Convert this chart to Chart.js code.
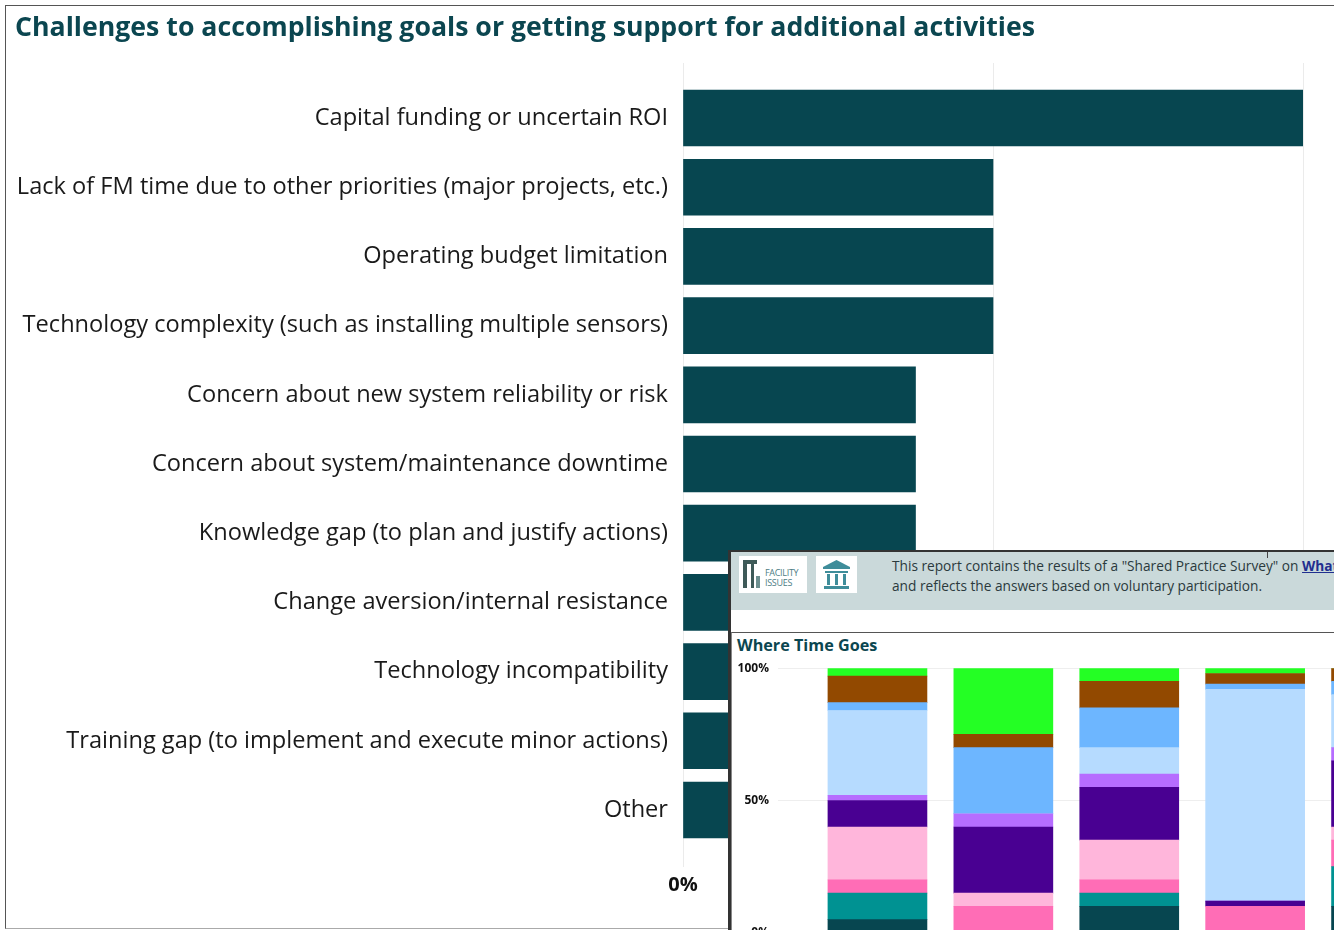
<!DOCTYPE html>
<html>
<head>
<meta charset="utf-8">
<title>Challenges to accomplishing goals</title>
<script src="https://cdn.jsdelivr.net/npm/chart.js@4/dist/chart.umd.min.js"></script>
<style>
html, body { margin: 0; padding: 0; width: 1334px; height: 930px; overflow: hidden; background: #fff; }
body { position: relative; font-family: "Open Sans", sans-serif; }
#frame { position: absolute; left: 5px; top: 5px; width: 1329px; height: 924px; border-left: 1px solid #555; border-top: 1px solid #555; border-bottom: 1px solid #aaa; box-sizing: border-box; }
#mainChart { position: absolute; left: 15px; top: 6px; }
#overlay { position: absolute; left: 728px; top: 550px; width: 606px; height: 380px; background: #fff; overflow: hidden; border-left: 3px solid #333; border-top: 2px solid #333; box-sizing: border-box; }
#header { position: absolute; left: 0; top: 0; width: 603px; height: 58px; background: #cad9da; }
#tick { position: absolute; left: 536px; top: 0; width: 1px; height: 6px; background: #444; }
.logo { position: absolute; top: 4px; height: 37px; background: #fff; }
#logo1 { left: 8px; width: 68px; }
#logo2 { left: 85px; width: 41px; }
#logoText { position: absolute; left: 26px; top: 12px; font-size: 9px; line-height: 10px; color: #4d7c84; letter-spacing: -0.3px; }
.intro { position: absolute; left: 161px; font-size: 13.7px; white-space: nowrap; color: #2b3a3d; }
.intro a { color: #1f2f8f; font-weight: bold; }
#panel { position: absolute; left: 0; top: 80px; width: 603px; height: 300px; border-left: 1px solid #888; border-top: 1px solid #555; box-sizing: border-box; }
#panelTitle { position: absolute; left: 5px; top: 1px; font-size: 16.2px; font-weight: bold; color: #0b4650; }
#timeChart { position: absolute; left: 1px; top: 100px; }
</style>
</head>
<body>
<div id="frame"></div>
<canvas id="mainChart" width="1319" height="924"></canvas>
<div id="overlay">
  <div id="header">
    <div id="tick"></div>
    <div class="logo" id="logo1">
      <svg width="24" height="37" viewBox="0 0 24 37">
        <path d="M4 4h14v4h-3v24h-3V8H8v24H4z" fill="#3e5a58"/><path d="M17 20h4v12h-4z" fill="#6d8f8f"/>
      </svg>
      <div id="logoText">FACILITY<br>ISSUES</div>
    </div>
    <div class="logo" id="logo2">
      <svg width="41" height="37" viewBox="0 0 41 37">
        <path d="M20.5 4L7 11v2h27v-2z" fill="#3f8d9a"/>
        <path d="M9 15h23v2H9zM11 18h3v11h-3zM19 18h3v11h-3zM27 18h3v11h-3zM8 30h25v3H8z" fill="#3f8d9a"/>
      </svg>
    </div>
    <div class="intro" style="top:4px">This report contains the results of a "Shared Practice Survey" on <a href="#">What</a></div>
    <div class="intro" style="top:24px">and reflects the answers based on voluntary participation.</div>
  </div>
  <div id="panel"><div id="panelTitle">Where Time Goes</div></div>
  <canvas id="timeChart" width="712" height="297"></canvas>
</div>
<script>
const challengeLabels = [
    'Capital funding or uncertain ROI',
    'Lack of FM time due to other priorities (major projects, etc.)',
    'Operating budget limitation',
    'Technology complexity (such as installing multiple sensors)',
    'Concern about new system reliability or risk',
    'Concern about system/maintenance downtime',
    'Knowledge gap (to plan and justify actions)',
    'Change aversion/internal resistance',
    'Technology incompatibility',
    'Training gap (to implement and execute minor actions)',
    'Other'
];
const challengeValues = [40, 20, 20, 20, 15, 15, 15, 10, 10, 10, 10];

// second chart, only the part visible above the window edge
const timeColumns = ['1', '2', '3', '4', '5'];
const timeTicks = [0, 50, 100];
const darkTeal = [5, 0, 10, 0, 10];
const teal = [10, 0, 5, 0, 15];
const hotPink = [5, 10, 5, 10, 10];
const lightPink = [20, 5, 15, 0, 5];
const indigo = [10, 25, 20, 2, 25];
const violet = [2, 5, 5, 0, 5];
const lightBlue = [32, 0, 10, 80, 20];
const midBlue = [3, 25, 15, 2, 5];
const brown = [10, 5, 10, 4, 5];
const green = [3, 25, 5, 2, 0];

const textFont = '"Open Sans", sans-serif';

new Chart(document.getElementById('mainChart').getContext('2d'), {
    type: 'bar',
    data: {
        datasets: [{
            data: challengeValues.map((v, i) => ({ x: v, y: i })),
            backgroundColor: '#074650',
            barThickness: 56
        }]
    },
    options: {
        indexAxis: 'y',
        responsive: false,
        animation: false,
        layout: { padding: { right: 31 } },
        plugins: {
            legend: { display: false },
            tooltip: { enabled: false },
            title: {
                display: true,
                text: 'Challenges to accomplishing goals or getting support for additional activities',
                align: 'start',
                color: '#0b4650',
                font: { family: textFont, size: 26.7, weight: 'bold', lineHeight: '32px' },
                padding: { top: 6, bottom: 19 }
            }
        },
        scales: {
            x: {
                min: 0,
                max: 40,
                afterFit: (scale) => { scale.height = 63; },
                border: { display: false },
                grid: { color: '#ebebeb', drawTicks: false },
                ticks: {
                    stepSize: 20,
                    padding: 6,
                    color: '#111',
                    font: { family: textFont, size: 20, weight: 'bold' },
                    callback: (v) => v + '%'
                }
            },
            y: {
                type: 'linear',
                reverse: true,
                offset: false,
                bounds: 'data',
                min: -0.795,
                max: 10.824,
                afterFit: (scale) => { scale.width = 668; },
                afterBuildTicks: (scale) => { scale.ticks = challengeLabels.map((label, i) => ({ value: i })); },
                border: { display: false },
                grid: { display: false, drawTicks: false },
                ticks: {
                    autoSkip: false,
                    padding: 15,
                    color: '#1a1a1a',
                    font: { family: textFont, size: 23.6 },
                    callback: (v) => challengeLabels[v]
                }
            }
        }
    }
});

const timeSeries = [
    [darkTeal, '#074650'],
    [teal, '#009292'],
    [hotPink, '#ff6db6'],
    [lightPink, '#ffb6db'],
    [indigo, '#490092'],
    [violet, '#b66dff'],
    [lightBlue, '#b6dbff'],
    [midBlue, '#6db6ff'],
    [brown, '#924900'],
    [green, '#24ff24']
];

new Chart(document.getElementById('timeChart').getContext('2d'), {
    type: 'bar',
    data: {
        labels: timeColumns,
        datasets: timeSeries.map(([values, colour]) => ({
            data: values,
            backgroundColor: colour,
            barThickness: 99
        }))
    },
    options: {
        responsive: false,
        animation: false,
        plugins: { legend: { display: false }, tooltip: { enabled: false } },
        scales: {
            x: { stacked: true, display: false },
            y: {
                stacked: true,
                min: 0,
                max: 100,
                afterFit: (scale) => { scale.width = 82.5; },
                afterBuildTicks: (scale) => { scale.ticks = timeTicks.map((v) => ({ value: v })); },
                border: { display: false },
                grid: { color: '#eeeeee', tickLength: 36.5 },
                ticks: {
                    padding: 9,
                    color: '#111',
                    font: { family: textFont, size: 12, weight: 'bold' },
                    callback: (v) => v + '%'
                }
            }
        }
    }
});
</script>
</body>
</html>
